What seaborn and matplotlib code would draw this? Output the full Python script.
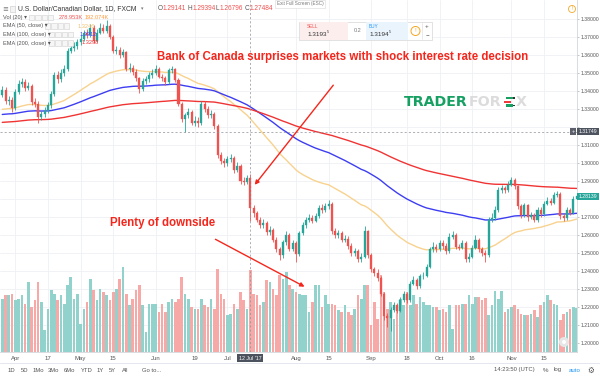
import matplotlib
matplotlib.use("Agg")
import matplotlib.pyplot as plt
import seaborn as sns
import numpy as np
import pandas as pd
from matplotlib.patches import Rectangle, Ellipse, FancyArrowPatch
from matplotlib.lines import Line2D

# USD/CAD daily, 28 Mar 2017 .. 29 Nov 2017 (one entry per trading day)
first_open = 1.3380
closes = [
    1.3405, 1.3345, 1.3350, 1.3305, 1.3395, 1.3440, 1.3450, 1.3415, 1.3430, 1.3340,
    1.3330, 1.3255, 1.3270, 1.3290, 1.3320, 1.3385, 1.3490, 1.3465, 1.3500, 1.3520,
    1.3625, 1.3640, 1.3650, 1.3670, 1.3690, 1.3720, 1.3710, 1.3750, 1.3680, 1.3725,
    1.3750, 1.3735, 1.3760, 1.3700, 1.3625, 1.3630, 1.3600, 1.3615, 1.3525, 1.3530,
    1.3505, 1.3470, 1.3410, 1.3455, 1.3465, 1.3490, 1.3500, 1.3525, 1.3480, 1.3470,
    1.3450, 1.3515, 1.3520, 1.3460, 1.3330, 1.3245, 1.3265, 1.3285, 1.3225, 1.3235,
    1.3220, 1.3330, 1.3300, 1.3265, 1.3275, 1.3205, 1.3045, 1.3010, 1.3000, 1.3020,
    1.3030, 1.2960, 1.2985, 1.2900, 1.2895, 1.2914, 1.2748, 1.2720, 1.2685, 1.2655,
    1.2665, 1.2615, 1.2630, 1.2575, 1.2520, 1.2490, 1.2560, 1.2600, 1.2525, 1.2555,
    1.2495, 1.2610, 1.2655, 1.2685, 1.2695, 1.2680, 1.2705, 1.2750, 1.2740, 1.2760,
    1.2775, 1.2620, 1.2600, 1.2610, 1.2575, 1.2580, 1.2540, 1.2500, 1.2510, 1.2465,
    1.2480, 1.2620, 1.2490, 1.2410, 1.2390, 1.2360, 1.2275, 1.2150, 1.2140, 1.2185,
    1.2210, 1.2180, 1.2240, 1.2275, 1.2240, 1.2330, 1.2350, 1.2315, 1.2370, 1.2375,
    1.2425, 1.2520, 1.2535, 1.2520, 1.2555, 1.2540, 1.2510, 1.2590, 1.2600, 1.2535,
    1.2530, 1.2555, 1.2465, 1.2480, 1.2530, 1.2575, 1.2520, 1.2500, 1.2490, 1.2685,
    1.2695, 1.2740, 1.2850, 1.2860, 1.2850, 1.2880, 1.2905, 1.2870, 1.2760, 1.2710,
    1.2765, 1.2700, 1.2710, 1.2685, 1.2740, 1.2715, 1.2775, 1.2790, 1.2780, 1.2825,
    1.2830, 1.2705, 1.2695, 1.2740, 1.2725, 1.2800, 1.2814,
]
highs = [
    1.3430, 1.3420, 1.3375, 1.3365, 1.3410, 1.3460, 1.3475, 1.3465, 1.3450, 1.3440,
    1.3360, 1.3345, 1.3290, 1.3310, 1.3340, 1.3400, 1.3505, 1.3510, 1.3520, 1.3545,
    1.3640, 1.3665, 1.3675, 1.3690, 1.3710, 1.3740, 1.3745, 1.3775, 1.3765, 1.3745,
    1.3780, 1.3770, 1.3793, 1.3775, 1.3710, 1.3650, 1.3645, 1.3635, 1.3625, 1.3555,
    1.3545, 1.3520, 1.3480, 1.3470, 1.3485, 1.3505, 1.3520, 1.3545, 1.3535, 1.3495,
    1.3485, 1.3530, 1.3540, 1.3530, 1.3470, 1.3340, 1.3280, 1.3305, 1.3295, 1.3260,
    1.3255, 1.3345, 1.3345, 1.3315, 1.3295, 1.3285, 1.3215, 1.3060, 1.3030, 1.3040,
    1.3050, 1.3040, 1.3005, 1.2995, 1.2925, 1.2935, 1.2939, 1.2765, 1.2735, 1.2700,
    1.2690, 1.2680, 1.2650, 1.2640, 1.2590, 1.2535, 1.2575, 1.2620, 1.2610, 1.2575,
    1.2565, 1.2625, 1.2670, 1.2700, 1.2715, 1.2710, 1.2725, 1.2765, 1.2770, 1.2780,
    1.2795, 1.2785, 1.2640, 1.2630, 1.2620, 1.2600, 1.2595, 1.2555, 1.2530, 1.2520,
    1.2500, 1.2650, 1.2630, 1.2500, 1.2425, 1.2410, 1.2375, 1.2285, 1.2165, 1.2200,
    1.2230, 1.2225, 1.2255, 1.2290, 1.2285, 1.2345, 1.2370, 1.2360, 1.2385, 1.2395,
    1.2440, 1.2535, 1.2560, 1.2550, 1.2575, 1.2570, 1.2555, 1.2610, 1.2625, 1.2610,
    1.2550, 1.2575, 1.2565, 1.2500, 1.2545, 1.2600, 1.2585, 1.2535, 1.2515, 1.2700,
    1.2720, 1.2760, 1.2865, 1.2880, 1.2875, 1.2900, 1.2920, 1.2915, 1.2880, 1.2775,
    1.2780, 1.2775, 1.2730, 1.2725, 1.2755, 1.2755, 1.2790, 1.2810, 1.2805, 1.2840,
    1.2845, 1.2840, 1.2720, 1.2755, 1.2750, 1.2815, 1.2830,
]
lows = [
    1.3365, 1.3330, 1.3320, 1.3285, 1.3295, 1.3385, 1.3425, 1.3400, 1.3405, 1.3325,
    1.3310, 1.3225, 1.3240, 1.3255, 1.3280, 1.3305, 1.3375, 1.3445, 1.3450, 1.3485,
    1.3510, 1.3610, 1.3625, 1.3635, 1.3655, 1.3680, 1.3695, 1.3700, 1.3665, 1.3670,
    1.3715, 1.3720, 1.3725, 1.3690, 1.3610, 1.3605, 1.3585, 1.3590, 1.3510, 1.3505,
    1.3490, 1.3455, 1.3390, 1.3400, 1.3440, 1.3450, 1.3475, 1.3490, 1.3470, 1.3455,
    1.3435, 1.3440, 1.3500, 1.3450, 1.3315, 1.3230, 1.3175, 1.3250, 1.3210, 1.3205,
    1.3200, 1.3210, 1.3285, 1.3250, 1.3250, 1.3190, 1.3030, 1.2995, 1.2980, 1.2985,
    1.3005, 1.2945, 1.2950, 1.2885, 1.2880, 1.2885, 1.2680, 1.2700, 1.2670, 1.2640,
    1.2640, 1.2600, 1.2600, 1.2560, 1.2505, 1.2460, 1.2475, 1.2545, 1.2510, 1.2510,
    1.2450, 1.2485, 1.2600, 1.2640, 1.2670, 1.2665, 1.2670, 1.2695, 1.2725, 1.2730,
    1.2745, 1.2605, 1.2585, 1.2585, 1.2560, 1.2560, 1.2525, 1.2485, 1.2485, 1.2450,
    1.2450, 1.2470, 1.2475, 1.2395, 1.2375, 1.2345, 1.2260, 1.2130, 1.2090, 1.2065,
    1.2170, 1.2165, 1.2170, 1.2230, 1.2225, 1.2230, 1.2320, 1.2300, 1.2305, 1.2355,
    1.2365, 1.2415, 1.2505, 1.2505, 1.2510, 1.2525, 1.2495, 1.2500, 1.2580, 1.2520,
    1.2515, 1.2520, 1.2450, 1.2450, 1.2470, 1.2520, 1.2505, 1.2485, 1.2450, 1.2480,
    1.2670, 1.2685, 1.2730, 1.2835, 1.2835, 1.2840, 1.2870, 1.2855, 1.2745, 1.2695,
    1.2700, 1.2680, 1.2690, 1.2670, 1.2675, 1.2700, 1.2705, 1.2765, 1.2765, 1.2770,
    1.2810, 1.2690, 1.2680, 1.2685, 1.2710, 1.2715, 1.2790,
]
volumes = [  # thousands
    182, 193, 193, 199, 176, 182, 193, 165, 238, 153,
    176, 238, 170, 74, 148, 210, 199, 176, 193, 165,
    227, 255, 182, 199, 97, 148, 170, 250, 210, 176,
    216, 204, 193, 176, 204, 216, 250, 289, 199, 159,
    182, 210, 227, 159, 68, 165, 165, 165, 136, 165,
    136, 170, 182, 170, 182, 255, 199, 182, 153, 148,
    148, 182, 159, 153, 182, 148, 284, 199, 182, 125,
    131, 165, 148, 204, 176, 148, 279, 199, 193, 159,
    170, 244, 238, 216, 193, 261, 250, 272, 227, 216,
    204, 199, 193, 193, 136, 170, 227, 227, 153, 193,
    165, 165, 159, 142, 136, 159, 136, 125, 148, 193,
    182, 227, 227, 91, 170, 114, 261, 204, 148, 170,
    114, 148, 182, 159, 204, 159, 193, 165, 187, 170,
    159, 159, 153, 153, 142, 148, 136, 159, 80, 159,
    159, 165, 165, 193, 165, 187, 187, 176, 184, 125,
    159, 207, 182, 207, 136, 148, 153, 159, 148, 131,
    125, 125, 131, 142, 119, 159, 170, 193, 176, 165,
    159, 108, 131, 136, 148, 153, 150,
]

tick_pos = [4, 14, 24, 34, 47, 59, 69, 90, 100, 113, 124, 134, 144, 156, 166]
tick_labels = ["Apr", "17", "May", "15", "Jun", "19", "Jul", "Aug", "15",
               "Sep", "18", "Oct", "16", "Nov", "15"]
price_ticks = [1.20, 1.21, 1.22, 1.23, 1.24, 1.25, 1.26, 1.27, 1.28, 1.29,
               1.30, 1.31, 1.32, 1.33, 1.34, 1.35, 1.36, 1.37, 1.38]
ema_spans = [50, 100, 200]
ema_seeds = [1.3294, 1.3267, 1.3224]
ema_colors = ["#f8d28e", "#3d3df2", "#f03434"]
cross_idx = 76
cross_price = 1.31749
last_price = 1.28139

sns.set_theme(style="white")
plt.rcParams['font.family'] = ['Liberation Sans', 'DejaVu Sans']

UP, DOWN = "#26a69a", "#ef5350"
VOL_UP, VOL_DOWN = "#92d2cc", "#f7a9a7"
W, H = 600, 376


def fx(x):
    return x / W


def fy(y):
    return 1 - y / H


df = pd.DataFrame({"k": np.arange(len(closes)), "close": closes,
                   "high": highs, "low": lows, "volume": volumes})
df["open"] = df["close"].shift(1).fillna(first_open)
df["dir"] = np.where(df["close"] >= df["open"], "up", "down")
for span, seed in zip(ema_spans, ema_seeds):
    s = pd.concat([pd.Series([seed]), df["close"]], ignore_index=True)
    df[f"ema{span}"] = s.ewm(span=span, adjust=False).mean().iloc[1:].to_numpy()

fig = plt.figure(figsize=(6, 3.76), dpi=100)
fig.patch.set_facecolor("white")
rect = [0, fy(352), fx(577), 352 / H]
axg = fig.add_axes(rect)
axv = fig.add_axes(rect, sharex=axg)
ax = fig.add_axes(rect, sharex=axg)
axv.patch.set_alpha(0)
ax.patch.set_alpha(0)

x_lo, x_hi = -0.69, 176.1
p_lo, p_hi = 1.195, 1.39056

# grid layer
axg.set_ylim(p_lo, p_hi)
axg.set_yticks(price_ticks)
axg.grid(True, color="#eef0f4", lw=0.6)
axg.tick_params(labelbottom=False, labelleft=False, length=0)
for sp in axg.spines.values():
    sp.set_visible(False)

# volume layer
vcols = np.where(df["dir"] == "up", VOL_UP, VOL_DOWN)
axv.bar(df["k"], df["volume"], width=0.8, color=vcols, linewidth=0)
axv.set_ylim(0, 1200)
axv.tick_params(labelbottom=False, labelleft=False, length=0)
for sp in axv.spines.values():
    sp.set_visible(False)

# EMAs
for span, col in zip(ema_spans, ema_colors):
    sns.lineplot(x=df["k"], y=df[f"ema{span}"], color=col, lw=1.0, ax=ax,
                 zorder=2, legend=False)

# candles
cols = np.where(df["dir"] == "up", UP, DOWN)
ax.vlines(df["k"], df["low"], df["high"], colors=cols, lw=0.6, zorder=3)
ax.bar(df["k"], df["close"] - df["open"], bottom=df["open"], width=0.62,
       color=cols, edgecolor=cols, linewidth=0.25, zorder=4)

ax.set_xlim(x_lo, x_hi)
ax.set_ylim(p_lo, p_hi)
ax.set_xlabel("")
ax.set_ylabel("")
ax.set_xticks(tick_pos)
ax.set_xticklabels(tick_labels, fontsize=4.3, color="#555555")
ax.yaxis.tick_right()
ax.set_yticks(price_ticks)
# 1.28 and 1.32 sit under the price tags, as on the screenshot
ax.set_yticklabels(["" if p in (1.28, 1.32) else f"{p:.5f}" for p in price_ticks],
                   fontsize=3.7, color="#555555")
ax.tick_params(axis="x", length=0, pad=3.2)
ax.tick_params(axis="y", length=1.6, width=0.4, color="#9a9a9a", pad=1)
for side in ("top", "left"):
    ax.spines[side].set_visible(False)
for side in ("right", "bottom"):
    ax.spines[side].set_color("#d3d6dc")
    ax.spines[side].set_linewidth(0.6)

# crosshair
ax.axvline(cross_idx, color="#8c9098", lw=0.5, ls=(0, (3, 3)), zorder=5)
ax.axhline(cross_price, color="#8c9098", lw=0.5, ls=(0, (3, 3)), zorder=5)
tag = dict(xycoords=("axes fraction", "data"), textcoords="offset points",
           ha="left", va="center", fontsize=3.7, color="white",
           annotation_clip=False, zorder=10)
ax.annotate(f"{cross_price:.5f}", xy=(1, cross_price), xytext=(1.2, 0),
            bbox=dict(boxstyle="square,pad=0.25", fc="#4c525e", ec="none"), **tag)
ax.annotate(f"{last_price:.5f}", xy=(1, last_price), xytext=(1.2, 0),
            bbox=dict(boxstyle="square,pad=0.25", fc="#26a69a", ec="none"), **tag)
ax.annotate("+", xy=(1, cross_price), xycoords=("axes fraction", "data"),
            xytext=(-3, 0), textcoords="offset points", ha="center", va="center",
            fontsize=4, color="white", annotation_clip=False, zorder=10,
            bbox=dict(boxstyle="square,pad=0.2", fc="#5d606b", ec="none"))
ax.annotate("12 Jul '17", xy=(cross_idx, 0), xycoords=("data", "axes fraction"),
            xytext=(0, -4.4), textcoords="offset points", ha="center", va="center",
            fontsize=3.8, color="white", annotation_clip=False, zorder=10,
            bbox=dict(boxstyle="square,pad=0.35", fc="#4c525e", ec="none"))


def ftext(x, y, s, **kw):
    kw.setdefault("va", "center")
    return fig.text(fx(x), fy(y), s, **kw)


def fbox(x0, y0, x1, y1, **kw):
    fig.add_artist(Rectangle((fx(x0), fy(y1)), (x1 - x0) / W, (y1 - y0) / H,
                             transform=fig.transFigure, **kw))


def fcircle(x, y, r, **kw):
    fig.add_artist(Ellipse((fx(x), fy(y)), 2 * r / W, 2 * r / H,
                           transform=fig.transFigure, **kw))


# legend block, top-left
ftext(2.5, 9, "≡", fontsize=5, color="#777777", family="DejaVu Sans")
fbox(10, 6.5, 15, 11.5, fc="#f4f4f4", ec="#c8c8c8", lw=0.4)
ftext(18, 9, "U.S. Dollar/Canadian Dollar, 1D, FXCM", fontsize=4.9, color="#333333")
ftext(141, 9, "▾", fontsize=3.5, color="#777777", family="DejaVu Sans")
for lx, lab, vx, val in [(158, "O", 162.5, "1.29141"), (188, "H", 192.5, "1.29394"),
                         (216, "L", 220, "1.26796"), (245, "C", 249.5, "1.27484")]:
    ftext(lx, 9, lab, fontsize=4.7, color="#555555")
    ftext(vx, 9, val, fontsize=4.7, color=DOWN)

rows = [
    (17.5, "Vol (20) ▾", 29, [("278.953K", "#ef5350", 59), ("192.074K", "#ff9a3c", 85)]),
    (26, "EMA (50, close) ▾", 45, [(f"{df['ema50'][cross_idx]:.4f}", "#f0c070", 78)]),
    (34.5, "EMA (100, close) ▾", 49, [(f"{df['ema100'][cross_idx]:.4f}", "#3d3df2", 80)]),
    (43, "EMA (200, close) ▾", 49, [(f"{df['ema200'][cross_idx]:.4f}", "#f03434", 82)]),
]
for y, lab, sx, vals in rows:
    ftext(3, y, lab, fontsize=4.1, color="#555555")
    for i in range(4):
        fbox(sx + i * 6.3, y - 2.6, sx + i * 6.3 + 5.2, y + 2.6,
             fc="#f6f6f6", ec="#cfcfcf", lw=0.4)
    for txt, col, vx in vals:
        ftext(vx, y, txt, fontsize=4.1, color=col)

# top widgets
ftext(300, 4, "Exit Full Screen (ESC)", fontsize=3.3, color="#777777", ha="center",
      bbox=dict(boxstyle="square,pad=0.3", fc="white", ec="#d8d8d8", lw=0.4))
fcircle(572, 9, 3.5, fc="none", ec="#f5a623", lw=0.6)
ftext(572, 9, "!", fontsize=3.5, color="#f5a623", ha="center")

fbox(299, 22, 432, 40, fc="white", ec="#d6d6d6", lw=0.5)
fbox(300, 22.5, 348, 39.5, fc="#fdeeee", ec="none")
fbox(366, 22.5, 408, 39.5, fc="#eaf4fd", ec="none")
ftext(307, 26.5, "SELL", fontsize=3.4, color="#ef5350")
ftext(307, 34, "1.3193", fontsize=4.6, color="#333333")
ftext(326.5, 32, "5", fontsize=2.8, color="#333333")
ftext(357.5, 31, "0.2", fontsize=4, color="#777777", ha="center")
ftext(369, 26.5, "BUY", fontsize=3.4, color="#2196f3")
ftext(369, 34, "1.3194", fontsize=4.6, color="#333333")
ftext(388.5, 32, "5", fontsize=2.8, color="#333333")
fcircle(415.5, 31, 4.5, fc="none", ec="#f5a623", lw=0.7)
ftext(415.5, 31, "!", fontsize=4.2, color="#f5a623", ha="center")
fig.add_artist(Line2D([fx(422), fx(422)], [fy(23), fy(39)], transform=fig.transFigure,
                      color="#e0e0e0", lw=0.5))
ftext(427, 26, "+", fontsize=4.5, color="#555555", ha="center")
ftext(427, 34.5, "−", fontsize=4.5, color="#555555", ha="center")

# watermark logo
ftext(404, 101.5, "TRADER", fontsize=10.2, fontweight="bold", color="#16a062",
      family="DejaVu Sans")
ftext(469, 101.5, "FOR", fontsize=10.2, fontweight="bold", color="#dcdcdc",
      family="DejaVu Sans")
ftext(516, 101.5, "X", fontsize=10.2, fontweight="bold", color="#dcdcdc",
      family="DejaVu Sans")
fbox(506, 96.7, 513, 99.2, fc="#16a062", ec="none")
fbox(513, 97.2, 514.5, 98.7, fc="#333333", ec="none")
fbox(504, 100.7, 511, 103, fc="#ef3b3b", ec="none")
fbox(506, 104.3, 513, 106.8, fc="#16a062", ec="none")
fbox(513, 104.8, 514.5, 106.3, fc="#333333", ec="none")

# annotations
RED = "#f5261b"
ftext(157, 57, "Bank of Canada surprises markets with shock interest rate decision",
      fontsize=8.3, fontweight="bold", color=RED)
ftext(110, 223, "Plenty of downside", fontsize=8.3, fontweight="bold", color=RED)
fig.add_artist(FancyArrowPatch((fx(335), fy(83)), (fx(253), fy(187)),
                               transform=fig.transFigure, arrowstyle="-|>",
                               mutation_scale=6, color=RED, lw=1.0))
fig.add_artist(FancyArrowPatch((fx(213), fy(238)), (fx(307), fy(288)),
                               transform=fig.transFigure, arrowstyle="-|>",
                               mutation_scale=6, color=RED, lw=1.0))

# scale button bottom-right of the pane
fcircle(564, 342, 5, fc="#e6e6e6", ec="none")
fcircle(564, 342, 2, fc="white", ec="none")

# bottom toolbar
fig.add_artist(Line2D([0, 1], [fy(362.5), fy(362.5)], transform=fig.transFigure,
                      color="#e0e3eb", lw=0.6))
for x, s in [(8, "1D"), (20.5, "5D"), (33, "1Mo"), (48, "3Mo"), (64, "6Mo"),
             (81, "YTD"), (97, "1Y"), (109, "5Y"), (122, "All"), (142, "Go to...")]:
    ftext(x, 370, s, fontsize=4.2, color="#555555")
ftext(494, 370, "14:23:50 (UTC)", fontsize=4.2, color="#555555")
ftext(543, 370, "%", fontsize=4.4, color="#555555")
ftext(554, 370, "log", fontsize=4.4, color="#555555")
ftext(569, 370, "auto", fontsize=4.4, color="#2196f3")
ftext(587, 370, "⚙", fontsize=5.5, color="#555555", family="DejaVu Sans")

fig.savefig("out.png", dpi=100)
